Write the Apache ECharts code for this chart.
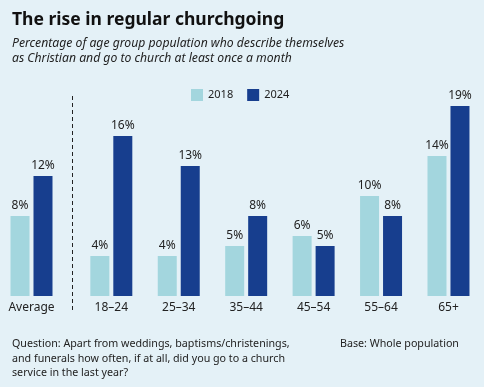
<!DOCTYPE html>
<html><head><meta charset="utf-8">
<script src="https://cdn.jsdelivr.net/npm/echarts@6/dist/echarts.min.js"></script>
<style>html,body{margin:0;padding:0;background:#e4f1f7}#c{width:484px;height:387px}</style>
</head><body><div id="c"></div>
<script>
const avgCategory = ['Average'];
const avg2018 = [8];
const avg2024 = [12];
const categories = ['18–24', '25–34', '35–44', '45–54', '55–64', '65+'];
const values2018 = [4, 4, 5, 6, 10, 14];
const values2024 = [16, 13, 8, 5, 8, 19];

const FONT = '"Noto Sans", sans-serif';
const C18 = '#a3d6de', C24 = '#173e8e';
const chart = echarts.init(document.getElementById('c'));
const lbl = {show: true, position: 'top', distance: 4, color: '#222', fontSize: 12, fontFamily: FONT, formatter: p => p.value + '%'};
const xa = (idx, data) => ({type: 'category', gridIndex: idx, data, axisLine: {show: false}, axisTick: {show: false},
  axisLabel: {color: '#222', fontSize: 12, fontFamily: FONT, margin: 6}});
const ya = idx => ({type: 'value', gridIndex: idx, min: 0, max: 20, show: false, splitLine: {show: false}});
const bar = (name, data, idx, color) => ({type: 'bar', name, data, xAxisIndex: idx, yAxisIndex: idx, barWidth: 19, barGap: '21%',
  itemStyle: {color}, label: lbl, silent: true});
chart.setOption({
  backgroundColor: '#e4f1f7',
  animation: false,
  title: [
    {text: 'The rise in regular churchgoing', left: 7, top: 6, textStyle: {fontSize: 17.5, fontWeight: 'bold', color: '#111', fontFamily: FONT}},
    {text: 'Percentage of age group population who describe themselves\nas Christian and go to church at least once a month', left: 7, top: 31,
      textStyle: {fontSize: 12.2, fontStyle: 'italic', fontWeight: 'normal', color: '#222', lineHeight: 15, fontFamily: FONT}},
    {text: 'Question: Apart from weddings, baptisms/christenings,\nand funerals how often, if at all, did you go to a church\nservice in the last year?', left: 7, top: 332,
      textStyle: {fontSize: 10.7, fontWeight: 'normal', color: '#222', lineHeight: 14.5, fontFamily: FONT}},
    {text: 'Base: Whole population', left: 335, top: 332, textStyle: {fontSize: 10.7, fontWeight: 'normal', color: '#222', lineHeight: 14.5, fontFamily: FONT}}
  ],
  legend: {data: ['2018', '2024'], left: 186, top: 84, itemWidth: 12, itemHeight: 12, itemGap: 14, icon: 'rect',
    textStyle: {fontSize: 11, color: '#222', fontFamily: FONT}},
  grid: [
    {left: 1, width: 61, top: 96, height: 200},
    {left: 77.6, width: 404.6, top: 96, height: 200}
  ],
  xAxis: [xa(0, avgCategory), xa(1, categories)],
  yAxis: [ya(0), ya(1)],
  series: [
    bar('2018', avg2018, 0, C18), bar('2024', avg2024, 0, C24),
    bar('2018', values2018, 1, C18), bar('2024', values2024, 1, C24)
  ],
  graphic: [{type: 'line', shape: {x1: 72.5, y1: 96, x2: 72.5, y2: 312}, style: {stroke: '#222', lineWidth: 1, lineDash: [4, 3]}}]
});
</script></body></html>
